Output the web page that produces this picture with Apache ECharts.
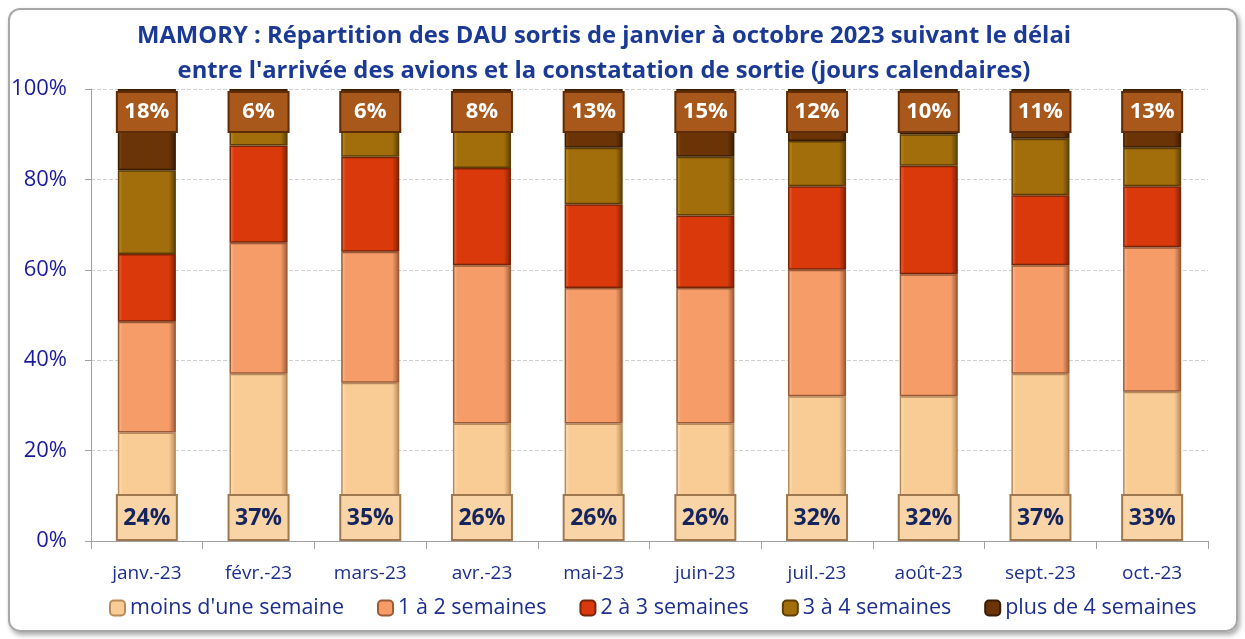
<!DOCTYPE html>
<html>
<head>
<meta charset="utf-8">
<script src="https://cdn.jsdelivr.net/npm/echarts@6/dist/echarts.min.js"></script>
<style>
  html, body { margin: 0; padding: 0; background: #fff; }
  .frame {
    position: absolute; left: 8px; top: 8px; width: 1226px; height: 620px;
    border: 2px solid #a8a8a8; border-radius: 12px;
    box-shadow: 2px 3px 5px rgba(0,0,0,0.35);
  }
  #chart { position: absolute; left: 0; top: 0; width: 1245px; height: 639px; }
</style>
</head>
<body>
<div class="frame"></div>
<div id="chart"></div>
<script>
const categories = ['janv.-23', 'févr.-23', 'mars-23', 'avr.-23', 'mai-23', 'juin-23', 'juil.-23', 'août-23', 'sept.-23', 'oct.-23']
const moinsUneSemaine = [24, 37, 35, 26, 26, 26, 32, 32, 37, 33]
const unADeux = [24.5, 29, 29, 35, 30, 30, 28, 27, 24, 32]
const deuxATrois = [15, 21.5, 21, 21.5, 18.5, 16, 18.5, 24, 15.5, 13.5]
const troisAQuatre = [18.5, 6.5, 9, 9.5, 12.5, 13, 10, 7, 12.5, 8.5]
const plusDeQuatre = [18, 6, 6, 8, 13, 15, 11.5, 10, 11, 13]
const yTicks = [0, 20, 40, 60, 80, 100]

const navy = '#1c2f8f'
const font = 'Open Sans'

// bevel-ish fill: lighter left edge, darker right edge
function bevel(light, mid, dark) {
  return new echarts.graphic.LinearGradient(0, 0, 1, 0, [
    { offset: 0, color: light },
    { offset: 0.08, color: mid },
    { offset: 0.88, color: mid },
    { offset: 1, color: dark }
  ])
}

function barSeries(name, data, light, mid, dark, label) {
  return {
    name: name,
    type: 'bar',
    stack: 'total',
    barWidth: '52%',
    data: data,
    itemStyle: {
      color: bevel(light, mid, dark),
      borderColor: dark,
      borderWidth: 1.5
    },
    label: label || { show: false }
  }
}

const chart = echarts.init(document.getElementById('chart'))
chart.setOption({
  animation: false,
  title: {
    text: "MAMORY : Répartition des DAU sortis de janvier à octobre 2023 suivant le délai\nentre l'arrivée des avions et la constatation de sortie (jours calendaires)",
    left: 599,
    textAlign: 'center',
    top: 14,
    textStyle: {
      fontFamily: font,
      fontSize: 23.8,
      fontWeight: 'bold',
      color: '#1a3a95',
      lineHeight: 35
    }
  },
  grid: { left: 91, right: 37, top: 89, bottom: 98 },
  legend: {
    bottom: 15,
    left: 104,
    itemWidth: 15,
    itemHeight: 15,
    itemGap: 33,
    textStyle: { fontFamily: font, fontSize: 21.5, color: navy },
    data: ["moins d'une semaine", '1 à 2 semaines', '2 à 3 semaines', '3 à 4 semaines', 'plus de 4 semaines']
  },
  xAxis: {
    type: 'category',
    data: categories,
    axisLine: { lineStyle: { color: '#a0a0a0' } },
    axisTick: { show: true, length: 8, lineStyle: { color: '#a0a0a0' } },
    axisLabel: { fontFamily: font, fontSize: 19, color: navy, margin: 23 }
  },
  yAxis: {
    type: 'value',
    min: yTicks[0],
    max: yTicks[yTicks.length - 1],
    interval: yTicks[1] - yTicks[0],
    axisLine: { show: true, lineStyle: { color: '#a0a0a0' } },
    axisTick: { show: true, length: 6, lineStyle: { color: '#a0a0a0' } },
    axisLabel: { fontFamily: font, fontSize: 22, color: '#1a1aa0', formatter: '{value}%', margin: 24 },
    splitLine: { lineStyle: { color: '#d0d0d0', type: 'dashed' } }
  },
  series: [
    barSeries("moins d'une semaine", moinsUneSemaine, '#fde6c4', '#f9cc96', '#b88a5a', {
      show: true,
      position: 'insideBottom',
      distance: 2,
      formatter: p => Math.round(p.value) + '%',
      fontFamily: font,
      fontSize: 23,
      fontWeight: 'bold',
      color: '#14245e',
      backgroundColor: '#f8d4a6',
      borderColor: '#a07850',
      borderWidth: 2,
      width: 46,
      lineHeight: 26,
      padding: [9, 6, 8, 6],
      align: 'center'
    }),
    barSeries('1 à 2 semaines', unADeux, '#fbc09a', '#f59c68', '#9c5a36'),
    barSeries('2 à 3 semaines', deuxATrois, '#f4703e', '#d9390b', '#7a2406'),
    barSeries('3 à 4 semaines', troisAQuatre, '#c8921f', '#a26e0c', '#5c3e06'),
    barSeries('plus de 4 semaines', plusDeQuatre, '#8a4a14', '#6a3407', '#3a1c03', {
      show: true,
      position: 'insideTop',
      distance: 4,
      formatter: p => Math.round(p.value) + '%',
      fontFamily: font,
      fontSize: 22,
      fontWeight: 'bold',
      color: '#ffffff',
      backgroundColor: '#a8581a',
      borderColor: '#5e2c06',
      borderWidth: 2,
      width: 46,
      lineHeight: 24,
      padding: [7, 6, 7, 6],
      align: 'center'
    })
  ]
})
</script>
</body>
</html>
